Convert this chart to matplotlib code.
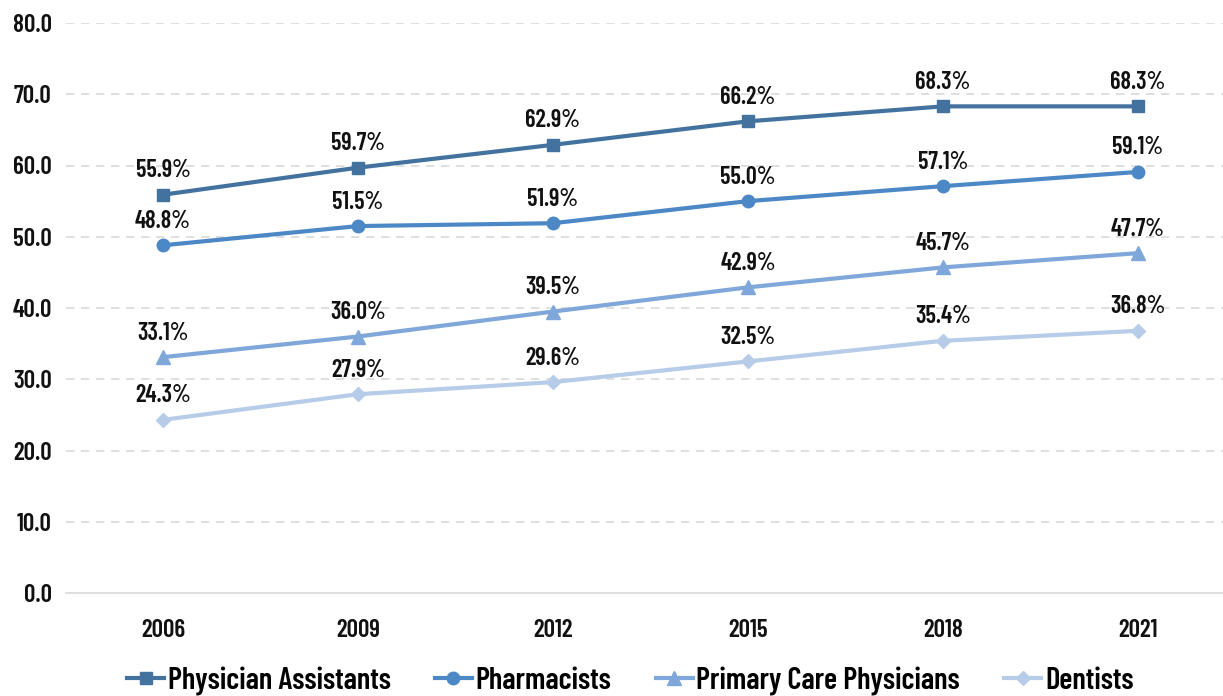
import matplotlib
matplotlib.use("Agg")
import matplotlib.pyplot as plt
from matplotlib import font_manager

years = ["2006", "2009", "2012", "2015", "2018", "2021"]
physician_assistants = [55.9, 59.7, 62.9, 66.2, 68.3, 68.3]
pharmacists = [48.8, 51.5, 51.9, 55.0, 57.1, 59.1]
primary_care = [33.1, 36.0, 39.5, 42.9, 45.7, 47.7]
dentists = [24.3, 27.9, 29.6, 32.5, 35.4, 36.8]
series_names = ["Physician Assistants", "Pharmacists", "Primary Care Physicians", "Dentists"]
yticks = [0, 10, 20, 30, 40, 50, 60, 70, 80]

names = {f.name for f in font_manager.fontManager.ttflist}
fam = "DejaVu Sans"
for cand in ["Barlow Condensed", "Fira Sans Extra Condensed", "Fira Sans Condensed",
             "Roboto Condensed", "Asap Condensed", "Archivo Narrow"]:
    if cand in names:
        fam = cand
        break
plt.rcParams["font.family"] = [fam, "DejaVu Sans"]
WEIGHT = 600

fig = plt.figure(figsize=(12.23, 6.96), dpi=100)
W, H = 1223, 696
ax = fig.add_axes([65.5 / W, (H - 593) / H, (W - 65.5) / W, (593 - 23) / H])

colors = ["#44729f", "#4d88c6", "#7fa7d9", "#b6cce8"]
markers = ["s", "o", "^", "D"]
msizes = [9, 9, 10, 7]
data = [physician_assistants, pharmacists, primary_care, dentists]
x = list(range(len(years)))

for vals, c, m, ms, name in zip(data, colors, markers, msizes, series_names):
    ax.plot(x, vals, color=c, lw=3, marker=m, markersize=ms, label=name, zorder=3)
    for xi, v in zip(x, vals):
        ax.annotate(f"{v:.1f}%", (xi, v), xytext=(0, 9), textcoords="offset points",
                    ha="center", va="bottom", fontsize=17.5, fontweight=WEIGHT, color="#111111")

ax.set_ylim(0, 80)
ax.set_yticks(yticks)
ax.set_yticklabels([f"{t:.1f}" for t in yticks], fontweight=WEIGHT)
ax.set_xlim(-0.5, 5.5 - 12.5 / 195)
ax.set_xticks(x)
ax.set_xticklabels(years, fontweight=WEIGHT)
ax.tick_params(axis="both", length=0, labelsize=18, colors="#111111")
ax.tick_params(axis="x", pad=19)
ax.tick_params(axis="y", pad=10)
for s in ["left", "right", "top"]:
    ax.spines[s].set_visible(False)
ax.spines["bottom"].set_color("#d9d9d9")
ax.spines["bottom"].set_linewidth(1.2)
ax.yaxis.grid(True, linestyle=(0, (5, 4)), color="#d9d9d9", lw=1.2)
for gl in ax.yaxis.get_gridlines()[:1]:
    gl.set_visible(False)
ax.set_axisbelow(True)

leg = fig.legend(loc="center", bbox_to_anchor=(0.5155, (H - 681) / H), ncol=4, frameon=False,
                 prop={"family": [fam, "DejaVu Sans"], "size": 22, "weight": WEIGHT},
                 handlelength=1.2, columnspacing=1.45, handletextpad=0.13,
                 borderpad=0, borderaxespad=0)

fig.savefig("out.png", dpi=100)
